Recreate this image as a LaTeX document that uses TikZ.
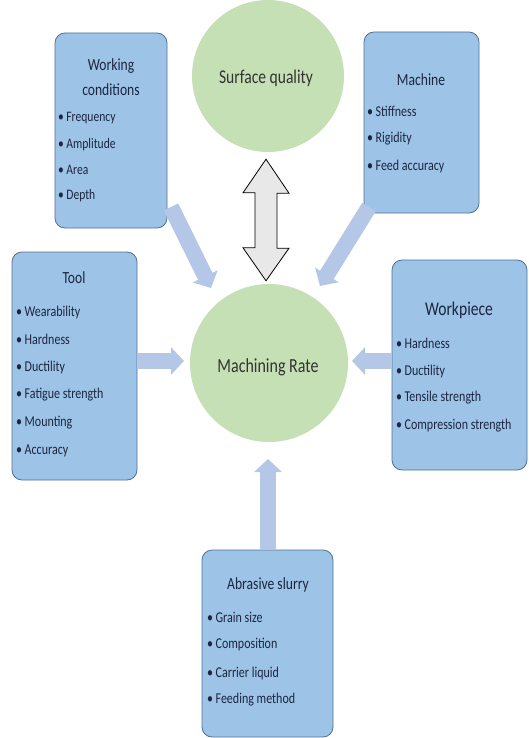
\documentclass[tikz,border=0pt]{standalone}
\usepackage{fontspec}
\setmainfont{Carlito}[FakeStretch=0.8]
\usetikzlibrary{arrows.meta}
\definecolor{boxblue}{RGB}{157,195,230}
\definecolor{boxline}{RGB}{84,112,150}
\definecolor{ballgreen}{RGB}{197,224,180}
\definecolor{arrowblue}{RGB}{180,199,231}
\definecolor{inkblue}{RGB}{28,38,66}
\begin{document}
\begin{tikzpicture}[x=1pt, y=-1pt,
		factor/.style={draw=boxline, fill=boxblue, rounded corners=10pt, line width=0.8pt, inner sep=0pt},
		result/.style={circle, fill=ballgreen, inner sep=0pt},
		head/.style={align=center, text=inkblue, font=\fontsize{17}{25}\selectfont, inner sep=0pt},
		item/.style={anchor=west, text=inkblue, font=\fontsize{15}{17}\selectfont, inner sep=0pt},
		flow/.style={line width=16pt, draw=arrowblue, -{Triangle[width=27pt,length=13pt]}},
		dbl/.style={draw=black, fill=gray!18, line width=0.8pt, line join=miter}]
		\useasboundingbox (0,0) rectangle (528,738);

		% the two results
		\node[result, minimum size=152pt] (sq) at (268,76) {};
		\node[font=\fontsize{19.5}{22}\selectfont, text=black!80] (sqt) at (266,78) {Surface quality};
		\node[result, minimum size=158pt] (mr) at (269,363) {};
		\node[font=\fontsize{20}{22}\selectfont, text=black!80] (mrt) at (268,367) {Machining Rate};

		% factor boxes
		\node[factor, minimum width=112pt, minimum height=195pt] (wc) at (111,130.5) {};
		\node[factor, minimum width=115pt, minimum height=181pt] (ma) at (421.5,122.5) {};
		\node[factor, minimum width=125pt, minimum height=228pt] (to) at (74.5,366) {};
		\node[factor, minimum width=135pt, minimum height=210pt] (wp) at (459.5,365) {};
		\node[factor, minimum width=131pt, minimum height=187pt] (as) at (267.5,643.5) {};

		\node[head] (wct) at (111,77) {Working\\conditions};
		\node[item, font=\fontsize{14.5}{16}\selectfont] (wc1) at (58,118) {\textbullet\,Frequency};
		\node[item, font=\fontsize{14.5}{16}\selectfont] (wc2) at (58,145) {\textbullet\,Amplitude};
		\node[item, font=\fontsize{14.5}{16}\selectfont] (wc3) at (58,170) {\textbullet\,Area};
		\node[item, font=\fontsize{14.5}{16}\selectfont] (wc4) at (58,196) {\textbullet\,Depth};

		\node[head] (mat) at (421,80) {Machine};
		\node[item] (ma1) at (367,111) {\textbullet\,Stiffness};
		\node[item] (ma2) at (367,139) {\textbullet\,Rigidity};
		\node[item] (ma3) at (367,167) {\textbullet\,Feed accuracy};

		\node[head] (tot) at (74,278) {Tool};
		\node[item] (to1) at (16,312) {\textbullet\,Wearability};
		\node[item] (to2) at (16,339) {\textbullet\,Hardness};
		\node[item] (to3) at (16,367) {\textbullet\,Ductility};
		\node[item] (to4) at (16,395) {\textbullet\,Fatigue strength};
		\node[item] (to5) at (16,423) {\textbullet\,Mounting};
		\node[item] (to6) at (16,451) {\textbullet\,Accuracy};

		\node[head, font=\fontsize{19.5}{22}\selectfont] (wpt) at (459,310) {Workpiece};
		\node[item] (wp1) at (396,343) {\textbullet\,Hardness};
		\node[item] (wp2) at (396,371) {\textbullet\,Ductility};
		\node[item] (wp3) at (396,398) {\textbullet\,Tensile strength};
		\node[item] (wp4) at (396,426) {\textbullet\,Compression strength};

		\node[head] (ast) at (268,585) {Abrasive slurry};
		\node[item] (as1) at (207,617) {\textbullet\,Grain size};
		\node[item] (as2) at (207,645) {\textbullet\,Composition};
		\node[item] (as3) at (207,673) {\textbullet\,Carrier liquid};
		\node[item] (as4) at (207,700) {\textbullet\,Feeding method};

		% arrow ends
		\coordinate (wcA) at (171,207);
		\coordinate (wcB) at (211,288);
		\coordinate (maA) at (369,207);
		\coordinate (maB) at (320,286);
		\coordinate (toA) at (to.east |- 0,361);
		\coordinate (toB) at (184,361);
		\coordinate (wpA) at (wp.west |- 0,361);
		\coordinate (wpB) at (352,361);
		\coordinate (asA) at (268,550);
		\coordinate (asB) at (268,459);

		\draw[flow] (wcA) -- (wcB);
		\draw[flow] (maA) -- (maB);
		\draw[flow] (toA) -- (toB);
		\draw[flow] (wpA) -- (wpB);
		\draw[flow] (asA) -- (asB);

		% two-way arrow between the results
		\path (sq.south) ++(-2,7) coordinate (dblA);
		\path (mr.north) ++(-3,-3) coordinate (dblB);
		\draw[dbl] (dblA) -- ++(23,34) -- ++(-12,0) -- ++(0,55) -- ++(12,0) -- (dblB)
			-- ++(-23,-33) -- ++(12,0) -- ++(0,-55) -- ++(-12,0) -- cycle;
	\end{tikzpicture}
\end{document}
